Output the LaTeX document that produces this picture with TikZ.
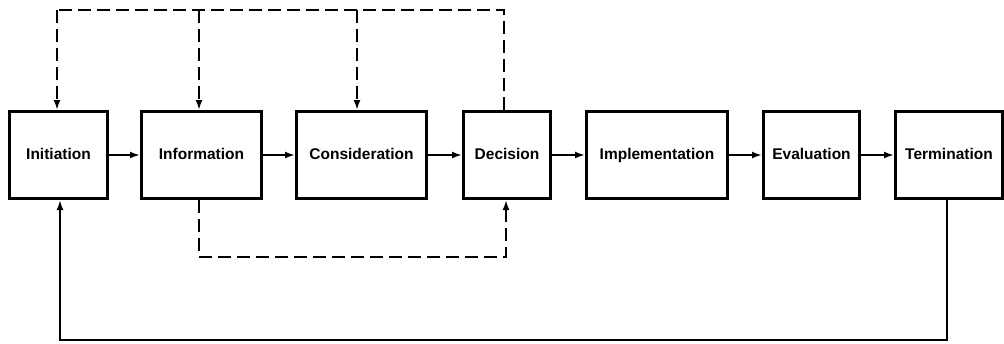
\documentclass[tikz,border=0pt]{standalone}
\usepackage{fontspec}
\setmainfont{Liberation Sans}
\usetikzlibrary{arrows.meta}
\begin{document}
\begin{tikzpicture}[x=1pt,y=-1pt,
  stagebox/.style={draw,line width=3pt,minimum height=87pt,inner sep=0pt,text height=11.5pt,text depth=3.5pt,font=\bfseries\fontsize{15.5}{16}\selectfont,anchor=north west},
  flow/.style={line width=2.4pt,-{Latex[length=10pt,width=7pt]}},
  fb/.style={line width=2.6pt,dash pattern=on 13pt off 6pt},
  fbarrow/.style={fb,-{Latex[length=10pt,width=7pt]}},
  solidfb/.style={line width=2.4pt,-{Latex[length=10pt,width=7pt]}}]
\useasboundingbox (0,0) rectangle (1004,343);
\node[stagebox,minimum width=98pt] (ini) at (8,110) {Initiation};
\node[stagebox,minimum width=120pt] (inf) at (140,110) {Information};
\node[stagebox,minimum width=130pt] (con) at (295,110) {Consideration};
\node[stagebox,minimum width=87pt] (dec) at (462,110) {Decision};
\node[stagebox,minimum width=141pt] (imp) at (585,110) {Implementation};
\node[stagebox,minimum width=96pt] (eva) at (762,110) {Evaluation};
\node[stagebox,minimum width=107pt] (ter) at (894,110) {Termination};
\draw[flow] (ini) -- (inf);
\draw[flow] (inf) -- (con);
\draw[flow] (con) -- (dec);
\draw[flow] (dec) -- (imp);
\draw[flow] (imp) -- (eva);
\draw[flow] (eva) -- (ter);
% top dashed feedback
\coordinate (tr) at (504,10);
\coordinate (tl) at (57,10);
\coordinate (t2) at (199,10);
\coordinate (t3) at (357,10);
\draw[fb] (dec.north -| tr) -- (tr) -- (tl);
\draw[fbarrow] (tl) -- (tl |- ini.north);
\draw[fbarrow] (t2) -- (t2 |- inf.north);
\draw[fbarrow] (t3) -- (t3 |- con.north);
% bottom dashed
\coordinate (bl) at (199,257);
\coordinate (br) at (506,257);
\draw[fbarrow] (bl |- inf.south) -- (bl) -- (br) -- (br |- dec.south);
% solid feedback
\coordinate (sr) at (947,340);
\coordinate (sl) at (60,340);
\draw[solidfb] (sr |- ter.south) -- (sr) -- (sl) -- (sl |- ini.south);
\end{tikzpicture}
\end{document}
